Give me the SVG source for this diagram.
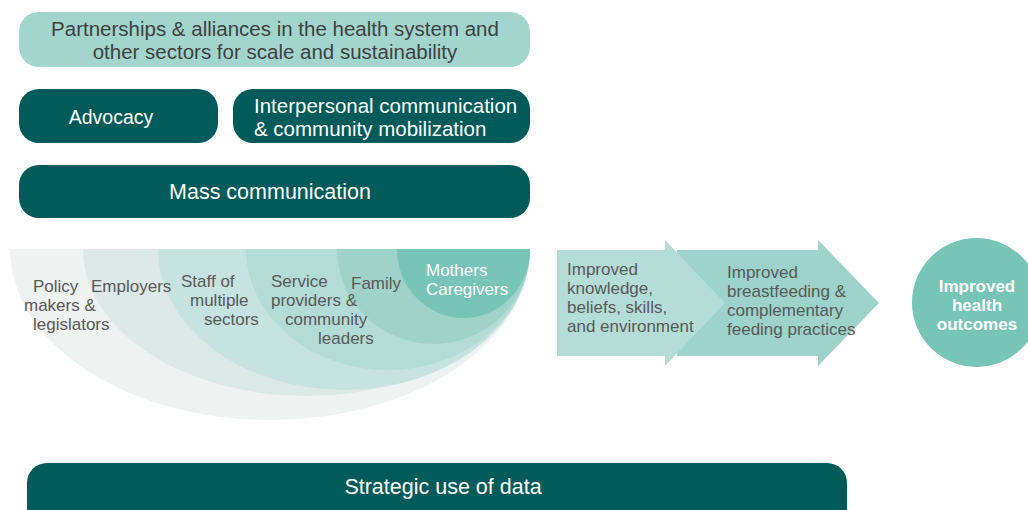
<svg xmlns="http://www.w3.org/2000/svg" width="1028" height="510" viewBox="0 0 1028 510">
<style>
text{font-family:"Liberation Sans",Arial,sans-serif;}
.dark{fill:#005b5a;}
.wt{fill:#ffffff;}
.gt{fill:#595959;font-size:17px;}
.at{fill:#595959;font-size:17px;}
</style>
<rect width="1028" height="510" fill="#ffffff"/>
<g id="partnerships">
<rect x="19" y="12" width="511" height="55" rx="20" fill="#a2d6cd"/>
<text x="275" y="36" font-size="20.5" fill="#404040" text-anchor="middle">Partnerships &amp; alliances in the health system and</text>
<text x="275" y="59" font-size="20.5" fill="#404040" text-anchor="middle">other sectors for scale and sustainability</text>
</g>
<g id="advocacy">
<rect class="dark" x="19" y="89" width="199" height="54" rx="20"/>
<text class="wt" x="111" y="124" font-size="19.5" text-anchor="middle">Advocacy</text>
</g>
<g id="interpersonal">
<rect class="dark" x="233" y="89" width="297" height="54" rx="20"/>
<text class="wt" x="254" y="113" font-size="20.5">Interpersonal communication</text>
<text class="wt" x="254" y="136" font-size="20.5">&amp; community mobilization</text>
</g>
<g id="mass">
<rect class="dark" x="19" y="165" width="511" height="53" rx="20"/>
<text class="wt" x="270" y="199" font-size="21.5" text-anchor="middle">Mass communication</text>
</g>
<g id="audiences">
<path d="M10,249 A260,171 0 0 0 530,249 Z" fill="#eef2f0"/>
<path d="M83,249 A223.5,147 0 0 0 530,249 Z" fill="#dde9e6"/>
<path d="M158,249 A186,141 0 0 0 530,249 Z" fill="#c6e3df"/>
<path d="M246,249 A142,121 0 0 0 530,249 Z" fill="#b3dcd6"/>
<path d="M337,249 A96.5,95 0 0 0 530,249 Z" fill="#9fd3ca"/>
<path d="M397,249 A66.5,69 0 0 0 530,249 Z" fill="#76c5b6"/>
<text class="gt" x="33" y="292">Policy</text>
<text class="gt" x="24" y="311">makers &amp;</text>
<text class="gt" x="33" y="330">legislators</text>
<text class="gt" x="91" y="292">Employers</text>
<text class="gt" x="181" y="287">Staff of</text>
<text class="gt" x="190" y="306">multiple</text>
<text class="gt" x="204" y="325">sectors</text>
<text class="gt" x="271" y="287">Service</text>
<text class="gt" x="271" y="306">providers &amp;</text>
<text class="gt" x="285" y="325">community</text>
<text class="gt" x="318" y="344">leaders</text>
<text class="gt" x="351" y="289">Family</text>
<text class="wt" x="426" y="276" font-size="17">Mothers</text>
<text class="wt" x="426" y="295" font-size="17">Caregivers</text>
</g>
<g id="connectors">
<path d="M677,250 L818,250 L818,240 L879,303 L818,366 L818,356 L677,356 Z" fill="#9dd3ca"/>
<path d="M557,250 L665,250 L665,240 L725,303 L665,366 L665,356 L557,356 Z" fill="#b4ddd8"/>
</g>
<g id="knowledge">
<text class="at" x="567" y="275">Improved</text>
<text class="at" x="567" y="294">knowledge,</text>
<text class="at" x="567" y="313">beliefs, skills,</text>
<text class="at" x="567" y="332">and environment</text>
</g>
<g id="practices">
<text class="at" x="727" y="278">Improved</text>
<text class="at" x="727" y="297">breastfeeding &amp;</text>
<text class="at" x="727" y="316">complementary</text>
<text class="at" x="727" y="335">feeding practices</text>
</g>
<g id="outcomes">
<circle cx="976.5" cy="302.5" r="64.5" fill="#76c5b6"/>
<text class="wt" x="977" y="292" font-size="17" font-weight="bold" text-anchor="middle">Improved</text>
<text class="wt" x="977" y="311" font-size="17" font-weight="bold" text-anchor="middle">health</text>
<text class="wt" x="977" y="330" font-size="17" font-weight="bold" text-anchor="middle">outcomes</text>
</g>
<g id="data">
<rect class="dark" x="27" y="463" width="820" height="70" rx="20"/>
<text class="wt" x="443" y="494" font-size="21.5" text-anchor="middle">Strategic use of data</text>
</g>
</svg>
